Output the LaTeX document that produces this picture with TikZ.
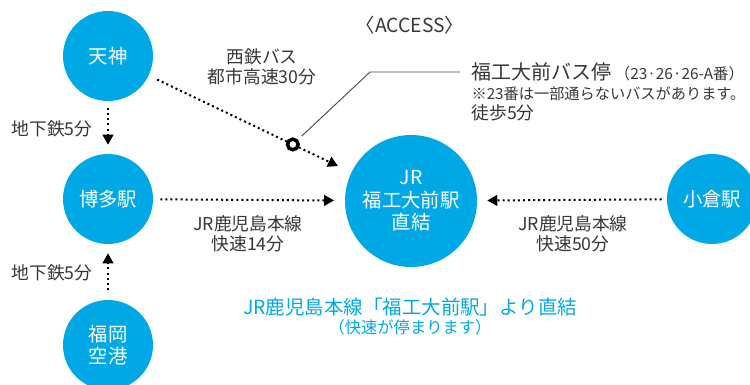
\documentclass[tikz,border=0pt]{standalone}
\usepackage{fontspec}
\setmainfont{Noto Sans CJK JP}
\usetikzlibrary{arrows.meta,calc}
\definecolor{fitblue}{RGB}{0,169,230}
\definecolor{ink}{RGB}{55,55,55}
\begin{document}
\begin{tikzpicture}[x=0.75pt, y=-0.75pt,
  station/.style={circle, fill=fitblue, text=white, inner sep=0pt, minimum size=67.5pt,
    align=center, font=\fontsize{14.5}{17}\selectfont},
  label/.style={text=ink, align=center, inner sep=1pt, font=\fontsize{13.3}{15}\selectfont},
  route/.style={line width=1.5pt, dash pattern=on 1.5pt off 2.3pt, -{Triangle[length=7.5pt, width=8pt]}},
  stopmark/.style={circle, draw=black, fill=white, line width=2.6pt, minimum size=8pt, inner sep=0pt},
  leader/.style={draw=ink!90, line width=0.7pt}]
\useasboundingbox (0,0) rectangle (750,385);
\clip (0,0) rectangle (750,385);

% stations
\node[station] (tenjin) at (108,56) {天神};
\node[station] (hakata) at (108,199) {博多駅};
\node[station] (airport) at (108,345) {福岡\\空港};
\node[station, minimum size=99pt] (jr) at (411,201) {JR\\福工大前駅\\直結};
\node[station] (kokura) at (712,199) {小倉駅};

% title
\node[label, font=\fontsize{14.5}{16}\selectfont] (title) at (410,25) {〈ACCESS〉};

% routes
\draw[route, shorten <=5.25pt, shorten >=6.75pt] (tenjin) -- (hakata);
\draw[route, shorten <=7.5pt, shorten >=6.75pt] (airport) -- (hakata);
\draw[route, shorten <=5.25pt, shorten >=8pt] (hakata) -- (jr);
\draw[route, shorten <=3.75pt, shorten >=7.5pt] (kokura) -- (jr);
\draw[route, shorten <=7pt, shorten >=11pt] (tenjin) -- (jr);

\node[label] (subway1) at (52,129) {地下鉄5分};
\node[label] (subway2) at (52,273) {地下鉄5分};
\node[label] (nishitetsu) at (262,67) {西鉄バス\\都市高速30分};
\node[label] (rapid14) at (248,234) {JR鹿児島本線\\快速14分};
\node[label] (rapid50) at (573,234) {JR鹿児島本線\\快速50分};

% bus stop
\node[stopmark] (busstop) at ($(tenjin)!0.61!(jr)$) {};
\coordinate (bend) at (370,72);
\node[label, anchor=west, font=\fontsize{15}{17}\selectfont] (busname) at (470,72)
  {福工大前バス停\,{\fontsize{11.5}{13}\selectfont （23·26·26-A番）}};
\node[label, anchor=north west, align=left] (busnote) at (470,85)
  {{\fontsize{11.4}{15.5}\selectfont ※23番は一部通らないバスがあります。}\\徒歩5分};
\draw[leader, shorten <=4pt, shorten >=7.5pt] (busstop) -- (bend) -- (busname.west);

% direct connection
\node[label, text=fitblue, font=\fontsize{14.6}{16}\selectfont] (direct) at (410,307)
  {JR鹿児島本線「福工大前駅」より直結};
\node[label, text=fitblue, font=\fontsize{12.2}{14}\selectfont] (stops) at (410,327)
  {（快速が停まります）};
\end{tikzpicture}
\end{document}
